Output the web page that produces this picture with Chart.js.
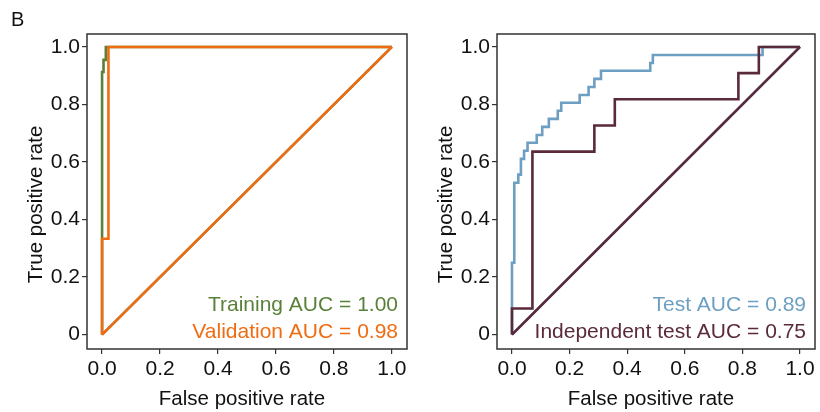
<!DOCTYPE html>
<html>
<head>
<meta charset="utf-8">
<script src="https://cdn.jsdelivr.net/npm/chart.js@4.4.1/dist/chart.umd.min.js"></script>
<style>
  html, body { margin: 0; padding: 0; background: #fff; }
  #wrap { position: relative; width: 820px; height: 412px; }
  .panel { position: absolute; top: 0; width: 410px; height: 412px; }
</style>
</head>
<body>
<div id="wrap">
  <div class="panel" style="left:0"><canvas id="leftChart"></canvas></div>
  <div class="panel" style="left:410px"><canvas id="rightChart"></canvas></div>
</div>
<script>
const FONT = "'Liberation Sans', Arial, sans-serif";
const xTicks = [0, 0.2, 0.4, 0.6, 0.8, 1.0];
const yTicks = [0, 0.2, 0.4, 0.6, 0.8, 1.0];

// ROC corner points (false positive rate, true positive rate)
const trainFpr = [0, 0, 0.005, 0.013, 1];
const trainTpr = [0, 0.913, 0.955, 1, 1];
const validFpr = [0, 0, 0.022, 1];
const validTpr = [0, 0.333, 1, 1];

const testFpr = [0, 0, 0.008, 0.022, 0.031, 0.042, 0.054, 0.086, 0.105, 0.128, 0.159, 0.171,
  0.235, 0.266, 0.286, 0.309, 0.48, 0.489, 0.87, 1];
const testTpr = [0, 0.25, 0.528, 0.556, 0.611, 0.639, 0.667, 0.694, 0.722, 0.75, 0.778, 0.806,
  0.833, 0.861, 0.889, 0.917, 0.944, 0.972, 1, 1];
const indepFpr = [0, 0, 0.071, 0.286, 0.357, 0.786, 0.857, 1];
const indepTpr = [0, 0.091, 0.636, 0.727, 0.818, 0.909, 1, 1];

const chanceFpr = [1, 0];
const chanceTpr = [1, 0];

const leftLabels = ["Training AUC = 1.00", "Validation AUC = 0.98"];
const rightLabels = ["Test AUC = 0.89", "Independent test AUC = 0.75"];

const green = "#5a8139";
const orange = "#f06c12";
const blue = "#6d9fc2";
const maroon = "#5a2a3b";

function pts(xs, ys) {
  return xs.map((x, i) => ({ x: x, y: ys[i] }));
}

function rocSet(xs, ys, color) {
  return { data: pts(xs, ys), borderColor: color, borderWidth: 2.6, stepped: "before",
    pointRadius: 0, fill: false, showLine: true };
}
function lineSet(xs, ys, color) {
  return { data: pts(xs, ys), borderColor: color, borderWidth: 2.6,
    pointRadius: 0, fill: false, showLine: true };
}

// box, legend texts, axis titles, panel letter
function decor(labels, colors, letter) {
  return {
    id: "decor",
    afterDraw(chart) {
      const ctx = chart.ctx;
      const a = chart.chartArea;
      ctx.save();
      ctx.strokeStyle = "#333";
      ctx.lineWidth = 1.5;
      ctx.strokeRect(a.left, a.top, a.right - a.left, a.bottom - a.top);

      ctx.font = "21px " + FONT;
      ctx.textAlign = "right";
      ctx.textBaseline = "alphabetic";
      ctx.fillStyle = colors[0];
      ctx.fillText(labels[0], a.right - 9, a.bottom - 38);
      ctx.fillStyle = colors[1];
      ctx.fillText(labels[1], a.right - 9, a.bottom - 11);

      ctx.fillStyle = "#111";
      ctx.font = "20.5px " + FONT;
      ctx.textAlign = "center";
      ctx.textBaseline = "middle";
      ctx.fillText("False positive rate", (a.left + a.right) / 2 - 5, 399);
      ctx.translate(a.left - 51, (a.top + a.bottom) / 2 + 13);
      ctx.rotate(-Math.PI / 2);
      ctx.fillText("True positive rate", 0, 0);
      ctx.restore();

      if (letter) {
        ctx.save();
        ctx.fillStyle = "#111";
        ctx.font = "20px " + FONT;
        ctx.textAlign = "left";
        ctx.textBaseline = "alphabetic";
        ctx.fillText(letter, 11, 26);
        ctx.restore();
      }
    }
  };
}

function makeOptions(yWidth, padRight) {
  return {
    responsive: false,
    animation: false,
    layout: { padding: { top: 34, right: padRight, left: 0, bottom: 0 } },
    plugins: { legend: { display: false }, tooltip: { enabled: false } },
    scales: {
      x: {
        type: "linear", min: -0.052, max: 1.052,
        afterBuildTicks: s => { s.ticks = xTicks.map(v => ({ value: v })); },
        afterFit: s => { s.height = 63; },
        grid: { drawOnChartArea: false, drawTicks: true, tickLength: 5, color: "#333", lineWidth: 1.2 },
        border: { display: false },
        ticks: { color: "#111", font: { size: 21, family: FONT }, padding: 3, maxRotation: 0,
          callback: v => v.toFixed(1) }
      },
      y: {
        type: "linear", min: -0.05, max: 1.045,
        afterBuildTicks: s => { s.ticks = yTicks.map(v => ({ value: v })); },
        afterFit: s => { s.width = yWidth; },
        grid: { drawOnChartArea: false, drawTicks: true, tickLength: 5, color: "#333", lineWidth: 1.2 },
        border: { display: false },
        ticks: { color: "#111", font: { size: 21, family: FONT }, padding: 2,
          callback: v => (v === 0 ? "0" : v.toFixed(1)) }
      }
    }
  };
}

const leftCanvas = document.getElementById("leftChart");
leftCanvas.width = 410; leftCanvas.height = 412;
new Chart(leftCanvas, {
  type: "scatter",
  data: {
    datasets: [
      rocSet(validFpr, validTpr, orange),
      lineSet(chanceFpr, chanceTpr, orange),
      rocSet(trainFpr, trainTpr, green),
      lineSet(chanceFpr, chanceTpr, green)
    ]
  },
  options: makeOptions(87, 3),
  plugins: [decor(leftLabels, [green, orange], "B")]
});

const rightCanvas = document.getElementById("rightChart");
rightCanvas.width = 410; rightCanvas.height = 412;
new Chart(rightCanvas, {
  type: "scatter",
  data: {
    datasets: [
      rocSet(indepFpr, indepTpr, maroon),
      lineSet(chanceFpr, chanceTpr, maroon),
      rocSet(testFpr, testTpr, blue),
      lineSet(chanceFpr, chanceTpr, blue)
    ]
  },
  options: makeOptions(87, 5),
  plugins: [decor(rightLabels, [blue, maroon], null)]
});
</script>
</body>
</html>
